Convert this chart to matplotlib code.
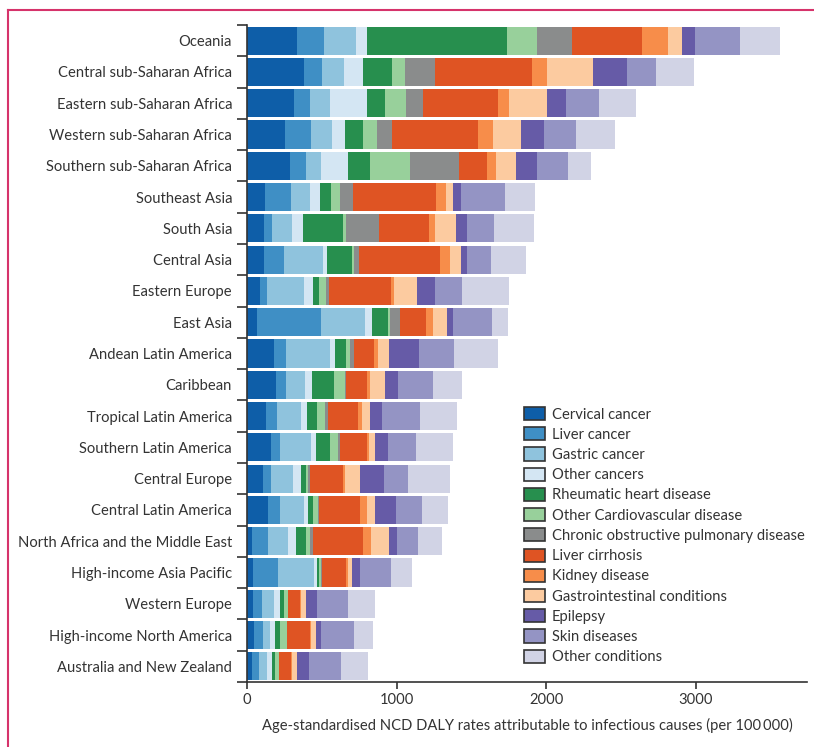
import numpy as np
import matplotlib
matplotlib.use("Agg")
import matplotlib.pyplot as plt
from matplotlib.lines import Line2D
from matplotlib.patches import Patch

plt.rcParams['font.family'] = ['Lato', 'DejaVu Sans']

regions = [
    "Oceania", "Central sub-Saharan Africa", "Eastern sub-Saharan Africa",
    "Western sub-Saharan Africa", "Southern sub-Saharan Africa", "Southeast Asia",
    "South Asia", "Central Asia", "Eastern Europe", "East Asia",
    "Andean Latin America", "Caribbean", "Tropical Latin America",
    "Southern Latin America", "Central Europe", "Central Latin America",
    "North Africa and the Middle East", "High-income Asia Pacific",
    "Western Europe", "High-income North America", "Australia and New Zealand",
]

# DALY rates per 100 000, one list per cause, in region order
cervical = [332, 378, 310, 250, 284, 118, 111, 111, 85, 65, 179, 192, 125, 159, 105, 138, 31, 38, 38, 44, 31]
liver_cancer = [179, 121, 108, 175, 108, 174, 54, 134, 46, 428, 80, 67, 73, 60, 54, 80, 107, 167, 60, 61, 46]
gastric = [215, 146, 133, 145, 100, 127, 134, 261, 247, 294, 294, 127, 161, 208, 146, 161, 133, 241, 81, 46, 54]
other_cancers = [74, 126, 248, 82, 180, 67, 74, 27, 61, 47, 34, 46, 40, 33, 54, 27, 54, 19, 39, 33, 33]
rheumatic = [941, 196, 120, 119, 147, 74, 268, 167, 40, 107, 73, 147, 67, 93, 34, 33, 68, 14, 27, 33, 20]
other_cvd = [196, 86, 140, 96, 268, 61, 19, 13, 46, 13, 27, 74, 54, 54, 13, 33, 26, 13, 26, 47, 27]
copd = [234, 201, 119, 100, 327, 87, 221, 34, 20, 67, 26, 6, 20, 14, 13, 7, 20, 6, 4, 3, 3]
cirrhosis = [473, 654, 502, 574, 189, 554, 334, 541, 414, 174, 134, 140, 201, 180, 221, 274, 334, 161, 77, 150, 77]
kidney = [168, 100, 74, 100, 60, 68, 40, 67, 20, 47, 26, 20, 26, 14, 13, 46, 54, 14, 6, 7, 7]
gastro = [95, 308, 254, 189, 134, 46, 140, 74, 155, 93, 74, 101, 54, 39, 100, 54, 120, 26, 34, 33, 33]
epilepsy = [87, 222, 122, 153, 140, 54, 74, 40, 120, 40, 201, 87, 81, 88, 161, 141, 54, 54, 73, 33, 80]
skin = [301, 194, 226, 215, 206, 294, 181, 161, 181, 261, 234, 234, 254, 187, 161, 174, 140, 207, 208, 227, 214]
other_conditions = [268, 254, 248, 261, 155, 201, 267, 233, 314, 107, 294, 194, 248, 245, 281, 174, 161, 141, 180, 127, 181]

causes = [
    "Cervical cancer", "Liver cancer", "Gastric cancer", "Other cancers",
    "Rheumatic heart disease", "Other Cardiovascular disease",
    "Chronic obstructive pulmonary disease", "Liver cirrhosis", "Kidney disease",
    "Gastrointestinal conditions", "Epilepsy", "Skin diseases", "Other conditions",
]
series = [cervical, liver_cancer, gastric, other_cancers, rheumatic, other_cvd, copd,
          cirrhosis, kidney, gastro, epilepsy, skin, other_conditions]
colors = ["#0e5ea8", "#3f8fc5", "#8fc3dd", "#d4e6f3", "#278f4e", "#98d09b", "#8a8c8c",
          "#df5423", "#f78d4a", "#fccba0", "#665ba7", "#9494c4", "#d1d3e5"]

fs = 10.6

fig = plt.figure(figsize=(8.14, 7.47), dpi=100)
ax = fig.add_axes([0.3038, 0.087, 0.6876, 0.8795])

y = np.arange(len(regions))
left = np.zeros(len(regions))
for name, vals, col in zip(causes, series, colors):
    vals = np.array(vals, dtype=float)
    ax.barh(y, vals, left=left, height=0.9, color=col, linewidth=0, label=name)
    left += vals

ax.set_ylim(len(regions) - 0.5, -0.5)
ax.set_xlim(0, 3745)

# labels at bar centres, tick marks between bars
ax.set_yticks(y)
ax.set_yticklabels(regions)
ax.set_yticks(np.arange(-0.5, len(regions), 1), minor=True)
ax.tick_params(axis='y', which='major', length=0, pad=11, labelsize=fs, labelcolor='#333333')
ax.tick_params(axis='y', which='minor', length=7, width=1.2, color='#333333')
ax.set_xticks([0, 1000, 2000, 3000])
ax.tick_params(axis='x', length=5, width=1.2, color='#333333', labelsize=fs,
               labelcolor='#333333', pad=3)

for s in ['top', 'right']:
    ax.spines[s].set_visible(False)
for s in ['left', 'bottom']:
    ax.spines[s].set_color('#333333')
    ax.spines[s].set_linewidth(1.2)

ax.set_xlabel("Age-standardised NCD DALY rates attributable to infectious causes (per 100\u2009000)",
              fontsize=fs, color='#333333', labelpad=8)

handles = [Patch(facecolor=c, edgecolor='#333333', linewidth=1.2) for c in colors]
ax.legend(handles, causes, loc='upper left', bbox_to_anchor=(0.6436, 0.4552),
          bbox_transform=fig.transFigure, frameon=False, fontsize=fs,
          handlelength=1.45, handleheight=1.0, handletextpad=0.45,
          labelspacing=0.38, borderaxespad=0, borderpad=0, labelcolor='#333333')

# pink page frame
fig.add_artist(Line2D([8 / 814, 8 / 814], [0, 1 - 10 / 747], transform=fig.transFigure,
                      color='#d6336b', linewidth=1.5))
fig.add_artist(Line2D([8 / 814, 1], [1 - 10 / 747, 1 - 10 / 747], transform=fig.transFigure,
                      color='#d6336b', linewidth=1.5))

plt.savefig("out.png", dpi=100)
plt.close()
